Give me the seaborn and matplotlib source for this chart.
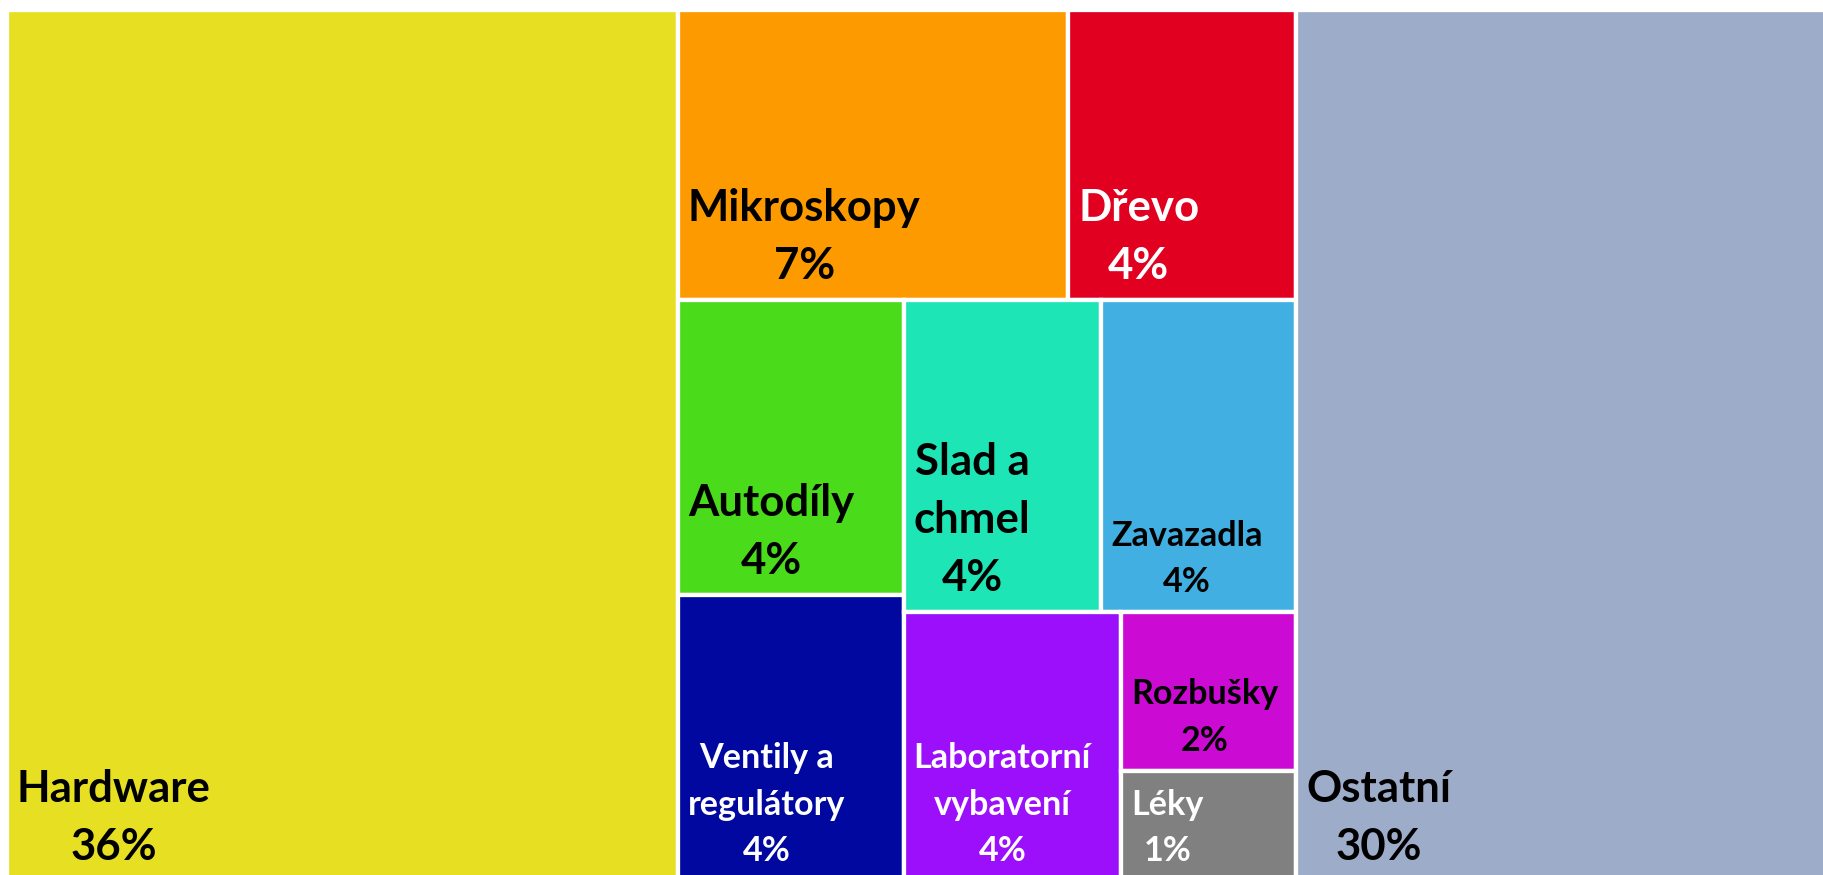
import matplotlib
matplotlib.use("Agg")
import matplotlib.pyplot as plt
import seaborn as sns

# categories and their share
names = ["Hardware", "Mikroskopy", "Dřevo", "Autodíly", "Ventily a\nregulátory",
         "Slad a\nchmel", "Zavazadla", "Laboratorní\nvybavení", "Rozbušky", "Léky", "Ostatní"]
values = [36.81, 7.13, 4.17, 4.20, 4.06, 3.88, 3.84, 3.68, 1.75, 1.22, 29.27]
pct_labels = ["36%", "7%", "4%", "4%", "4%", "4%", "4%", "4%", "2%", "1%", "30%"]
colors = ["#E6DF22", "#FD9A00", "#E1001F", "#4ADB1A", "#0008A0",
          "#1DE5B5", "#41AFE1", "#9B0FFB", "#CB0BD3", "#808080", "#9DACC8"]
text_colors = ["black", "black", "white", "black", "white",
               "black", "black", "white", "black", "white", "black"]

# nesting of the tiles (indices into the lists above), splits alternate x / y
groups = [0, [[1, 2], [[3, 4], [[5, 6], [7, [8, 9]]]]], 10]


def node_value(node):
    if isinstance(node, int):
        return values[node]
    return sum(node_value(c) for c in node)


def layout(node, x, y, w, h, horizontal, rects):
    if isinstance(node, int):
        rects[node] = (x, y, w, h)
        return
    total = node_value(node)
    for child in node:
        frac = node_value(child) / total
        if horizontal:
            layout(child, x, y, w * frac, h, not horizontal, rects)
            x += w * frac
        else:
            layout(child, x, y, w, h * frac, not horizontal, rects)
            y += h * frac


sns.set_theme(style="white")
plt.rcParams["font.family"] = ["Lato", "DejaVu Sans"]

W, H = 1823, 871
fig = plt.figure(figsize=(18.24, 8.75), dpi=100)
ax = fig.add_axes([7 / 1824, -6 / 875, W / 1824, H / 875])

rects = {}
layout(groups, 0, 0, W, H, True, rects)
order = sorted(rects)
ax.bar([rects[i][0] for i in order], [rects[i][3] for i in order],
       width=[rects[i][2] for i in order], bottom=[rects[i][1] for i in order],
       align="edge", color=[colors[i] for i in order],
       edgecolor="white", linewidth=3.1)

ax.set_xlim(0, W)
ax.set_ylim(H, 0)
ax.axis("off")

renderer = fig.canvas.get_renderer()
pad_x, pad_y = 10, 14
for i in order:
    x, y, w, h = rects[i]
    t = ax.text(x + pad_x, y + h - pad_y, f"{names[i]}\n{pct_labels[i]}",
                ha="left", va="bottom", multialignment="center",
                fontsize=31.5, fontweight="bold", color=text_colors[i], linespacing=1.55)
    bb = t.get_window_extent(renderer)
    # labels that don't fit comfortably get the smaller size, like Excel does
    if bb.width > w - 2 * pad_x - 20 or bb.height > h - 2 * pad_y:
        t.set_fontsize(24.6)

fig.savefig("out.png", dpi=100)
plt.close(fig)
